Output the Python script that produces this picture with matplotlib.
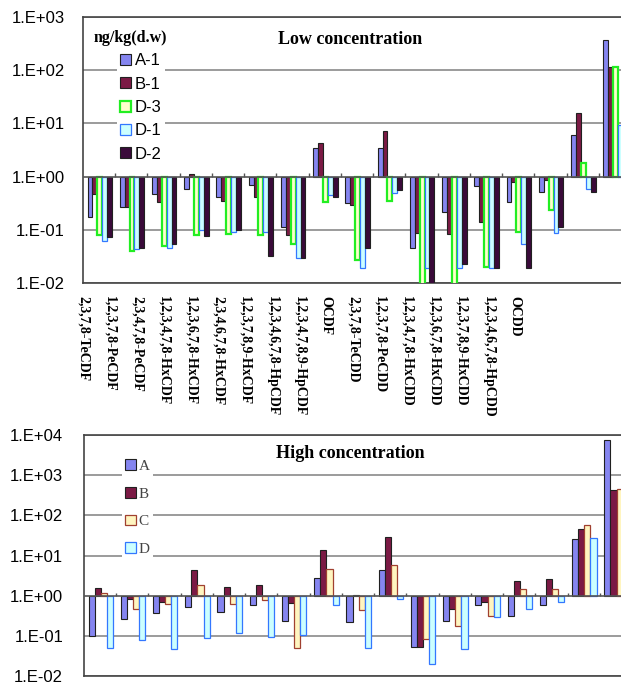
import numpy as np
import matplotlib.pyplot as plt
from matplotlib.patches import Patch

congeners = ["2,3,7,8-TeCDF", "1,2,3,7,8-PeCDF", "2,3,4,7,8-PeCDF", "1,2,3,4,7,8-HxCDF",
             "1,2,3,6,7,8-HxCDF", "2,3,4,6,7,8-HxCDF", "1,2,3,7,8,9-HxCDF", "1,2,3,4,6,7,8-HpCDF",
             "1,2,3,4,7,8,9-HpCDF", "OCDF", "2,3,7,8-TeCDD", "1,2,3,7,8-PeCDD",
             "1,2,3,4,7,8-HxCDD", "1,2,3,6,7,8-HxCDD", "1,2,3,7,8,9-HxCDD", "1,2,3,4,6,7,8-HpCDD",
             "OCDD"]

# low concentration samples (ng/kg d.w)
low_A1 = [0.176, 0.264, 0.47, 0.585, 0.41, 0.70, 0.114, 3.4, 0.32, 3.5, 0.046, 0.22, 0.67, 0.33, 0.52, 6.1, 368]
low_B1 = [0.47, 0.27, 0.33, 1.1, 0.35, 0.42, 0.079, 4.3, 0.29, 7.1, 0.088, 0.082, 0.14, 0.8, 0.87, 15.7, 114]
low_D3 = [0.079, 0.040, 0.050, 0.079, 0.082, 0.079, 0.053, 0.34, 0.027, 0.35, 0.009, 0.009, 0.020, 0.089, 0.235, 1.8, 114]
low_D1 = [0.062, 0.043, 0.046, 0.099, 0.091, 0.091, 0.029, 0.46, 0.019, 0.50, 0.019, 0.019, 0.019, 0.055, 0.088, 0.58, 9.5]
low_D2 = [0.074, 0.045, 0.053, 0.076, 0.10, 0.032, 0.030, 0.42, 0.046, 0.56, 0.010, 0.023, 0.019, 0.019, 0.114, 0.52, 11]

# high concentration samples
high_A = [0.10, 0.27, 0.36, 0.53, 0.40, 0.59, 0.234, 2.8, 0.22, 4.27, 0.053, 0.234, 0.59, 0.32, 0.59, 25.2, 7700]
high_B = [1.52, 0.81, 0.71, 4.35, 1.67, 1.8, 0.64, 13.7, 1.05, 28.3, 0.053, 0.457, 0.70, 2.3, 2.65, 44.7, 417]
high_C = [1.14, 0.46, 0.61, 1.8, 0.62, 0.80, 0.051, 4.7, 0.43, 5.8, 0.082, 0.176, 0.32, 1.44, 1.44, 57, 457]
high_D = [0.049, 0.077, 0.046, 0.087, 0.116, 0.094, 0.103, 0.57, 0.051, 0.84, 0.020, 0.046, 0.30, 0.47, 0.71, 26.7, 3800]

low_names = ["A-1", "B-1", "D-3", "D-1", "D-2"]
high_names = ["A", "B", "C", "D"]

# (face, edge, linewidth)
low_style = [("#8585F0", "#202020", 0.8), ("#7B1A45", "#202020", 0.8), ("#FFFFCC", "#22EE22", 1.6),
             ("#CCFFFF", "#3377FF", 0.9), ("#3A0A3A", "#202020", 0.8)]
high_style = [("#8585F0", "#202020", 0.8), ("#7B1A45", "#202020", 0.8), ("#FFF5C0", "#A04030", 0.9),
              ("#CCFFFF", "#3377FF", 0.9)]

SANS = "Liberation Sans"
SERIF = "Liberation Serif"

W, H = 621, 685
fig = plt.figure(figsize=(W / 100, H / 100), dpi=100)


def px_axes(left, top, right, bottom):
    return fig.add_axes([left / W, 1 - bottom / H, (right - left) / W, (bottom - top) / H])


def excel_label(k):
    return "1.E%s%02d" % ("+" if k >= 0 else "-", abs(k))


def draw_panel(ax, series, styles, kmin, kmax, pad):
    n = len(series)
    x = np.arange(len(congeners))
    group = 0.76
    w = group / n
    for i, (vals, (fc, ec, lw)) in enumerate(zip(series, styles)):
        v = np.array(vals)
        # excel style: bars start at the axis crossing (1.0)
        ax.bar(x + 0.02 - group / 2 + w * (i + 0.5), v - 1, bottom=1, width=w,
               color=fc, edgecolor=ec, linewidth=lw, zorder=3)
    ax.set_yscale("log")
    ax.set_ylim(10.0 ** kmin, 10.0 ** kmax)
    ax.set_xlim(-0.5, len(congeners) - 0.5)
    ax.set_xticks([])
    ax.minorticks_off()
    ks = list(range(kmin, kmax + 1))
    ax.set_yticks([10.0 ** k for k in ks])
    ax.set_yticklabels([excel_label(k) for k in ks], fontfamily=SANS, fontsize=12)
    ax.tick_params(axis="y", length=0, pad=pad)
    for k in ks:
        if k != 0:
            ax.axhline(10.0 ** k, color="#8a8a8a", lw=1.2, zorder=1)
    ax.axhline(1, color="#555555", lw=1.2, zorder=4)
    ax.vlines(x + 0.5, 1, 10 ** 0.06, color="#555555", lw=1.0, zorder=4)
    for s in ax.spines.values():
        s.set_color("#444444")
        s.set_linewidth(1.2)


# ---- top panel: low concentration ----
ax1 = px_axes(83, 17, 631, 283)
draw_panel(ax1, [low_A1, low_B1, low_D3, low_D1, low_D2], low_style, -2, 3, 13)
fig.text(350 / W, 1 - 40 / H, "Low concentration", fontfamily=SERIF, fontweight="bold",
         fontsize=13, ha="center", va="center")
fig.text(94 / W, 1 - 38 / H, "ng/kg(d.w)", fontfamily=SERIF, fontweight="bold",
         fontsize=11.5, ha="left", va="center")
h1 = [Patch(facecolor=fc, edgecolor=ec, linewidth=lw) for fc, ec, lw in low_style]
leg1 = ax1.legend(h1, low_names, loc="upper left", bbox_to_anchor=(117 / W, 1 - 50 / H),
                  bbox_transform=fig.transFigure, prop={"family": SANS, "size": 12},
                  frameon=True, fancybox=False, edgecolor="none", facecolor="white", framealpha=1,
                  handlelength=0.65, handleheight=0.65, handletextpad=0.2, labelspacing=0.5,
                  borderpad=0.2, borderaxespad=0)
leg1.set_zorder(6)

# x labels of the top panel (pasted below, evenly spaced)
lab = px_axes(69.8, 291, 69.8 + 459, 291.5)
lab.set_xlim(-0.5, len(congeners) - 0.5)
lab.set_xticks(np.arange(len(congeners)))
lab.set_xticklabels(congeners, rotation=270, fontfamily=SERIF, fontweight="bold", fontsize=10)
lab.tick_params(axis="x", length=0, pad=3)
lab.set_yticks([])
for s in lab.spines.values():
    s.set_visible(False)
lab.patch.set_alpha(0)

# ---- bottom panel: high concentration ----
ax2 = px_axes(84, 435, 632, 676)
draw_panel(ax2, [high_A, high_B, high_C, high_D], high_style, -2, 4, 15)
fig.text(350 / W, 1 - 453 / H, "High concentration", fontfamily=SERIF, fontweight="bold",
         fontsize=13, ha="center", va="center")
h2 = [Patch(facecolor=fc, edgecolor=ec, linewidth=lw) for fc, ec, lw in high_style]
leg2 = ax2.legend(h2, high_names, loc="upper left", bbox_to_anchor=(122 / W, 1 - 456 / H),
                  bbox_transform=fig.transFigure, prop={"family": SERIF, "size": 11},
                  frameon=True, fancybox=False, edgecolor="none", facecolor="white", framealpha=1,
                  handlelength=0.7, handleheight=0.7, handletextpad=0.2, labelspacing=0.92,
                  borderpad=0.2, borderaxespad=0)
for t in leg2.get_texts():
    t.set_color("#444444")
leg2.set_zorder(6)

fig.savefig("out.png", dpi=100)
